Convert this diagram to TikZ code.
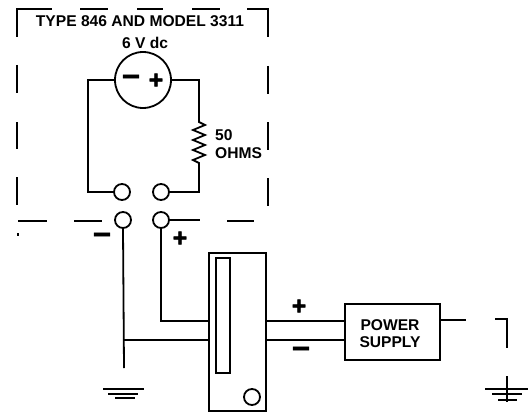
\documentclass[tikz,border=0pt]{standalone}
\usepackage{fontspec}
\setmainfont{Liberation Sans}
\newfontfamily\signfont[BoldFeatures={FakeBold=1.5}]{Liberation Sans}
\tikzset{
  wire/.style={line width=1.8pt},
  border/.style={line width=2.2pt},
  terminal/.style={circle,draw,line width=1.8pt,minimum size=16pt,inner sep=0pt},
  label/.style={font=\fontsize{15.6}{17.5}\selectfont\bfseries,align=center,inner sep=0pt},
  plussign/.style={font=\fontsize{25}{25}\selectfont\signfont\bfseries,inner sep=0pt},
  minussign/.style={font=\fontsize{32}{32}\selectfont\signfont\bfseries,inner sep=0pt},
  box/.style={draw,line width=2pt,inner sep=0pt}
}
\begin{document}
\begin{tikzpicture}[x=1pt,y=-1pt]
\useasboundingbox (0,0) rectangle (530,412);

\node [label] (title) at (140,21) {TYPE 846 AND MODEL 3311};
\node [label] (volts) at (145,43) {6 V dc};
\node [label,align=left,anchor=north west] (ohms) at (215,129.5) {50\\OHMS};

\draw [border] (17,37) -- (17,9) -- (52,9);
\draw [border] (80,9) -- (108,9);
\draw [border] (137,9) -- (163,9);
\draw [border] (192,9) -- (220,9);
\draw [border] (247,9) -- (268,9) -- (268,37);
\draw [border] (17,65) -- (17,93);
\draw [border] (17,122) -- (17,149);
\draw [border] (17,177) -- (17,205);
\draw [border] (268,66) -- (268,94);
\draw [border] (268,122) -- (268,150);
\draw [border] (268,178) -- (268,206);
\draw [border] (18,221) -- (47,221);
\draw [border] (74,221) -- (102,221);
\draw [border] (227,221) -- (254,221);
\draw [border] (18,233) -- (18,236);

\node [circle,draw,line width=1.8pt,minimum size=56pt,inner sep=0pt] (source) at (143,80) {};
\node [terminal] (t1) at (122,192) {};
\node [terminal] (t2) at (161,192) {};
\node [terminal] (t3) at (123,220) {};
\node [terminal] (t4) at (161,220) {};

\node [minussign] (srcminus) at (131,80) {–};
\node [plussign] (srcplus) at (156,81) {+};
\node [minussign] (lowminus) at (102,238) {–};
\node [plussign] (lowplus) at (180,239) {+};
\node [plussign] (outplus) at (299,307) {+};
\node [minussign] (outminus) at (301,352) {–};

\draw [wire] (source.west) -- (88,80) -- (88,192) -- (t1.west);
\draw [wire] (source.east) -- (199,80) -- (199,122) -- (205,125) -- (193,130) -- (205,135) -- (193,140) -- (205,145) -- (193,150) -- (205,155) -- (193,160) -- (199,163) -- (199,192) -- (t2.east);
\draw [wire] (t4.east) -- (200,220);

\node [box,minimum width=57pt,minimum height=158pt] (meter) at (237.5,332) {};
\node [box,minimum width=14pt,minimum height=115pt] (scale) at (223,315.5) {};
\node [circle,draw,line width=1.8pt,minimum size=16pt,inner sep=0pt] (knob) at (252,397) {};
\node [box,minimum width=95pt,minimum height=56pt] (supply) at (392.5,332) {};
\node [label] (supplytext) at (390,333.5) {POWER\\SUPPLY};

\coordinate (gndl) at (124,368);
\coordinate (gndr) at (507,376);

\draw [wire] (t3.south) -- (gndl);
\draw [wire] (124,340) -- (meter.west |- 124,340);
\draw [wire] (t4.south) -- (161,321) -- (meter.west |- 161,321);
\draw [wire] (meter.east |- 266,321) -- (supply.west |- 344,321);
\draw [wire] (meter.east |- 266,340) -- (supply.west |- 344,340);
\draw [wire] (supply.east |- 440,320) -- (466,320);
\draw [wire] (495,319) -- (507,319) -- (507,348);

\draw [wire] (103,389) -- (144,389);
\draw [wire] (108,394) -- (138,394);
\draw [wire] (115,398) -- (135,398);
\draw [wire] (gndr) -- (507,402);
\draw [wire] (485,389) -- (528,389);
\draw [wire] (492,394) -- (522,394);
\draw [wire] (498,400) -- (517,400);
\end{tikzpicture}
\end{document}
